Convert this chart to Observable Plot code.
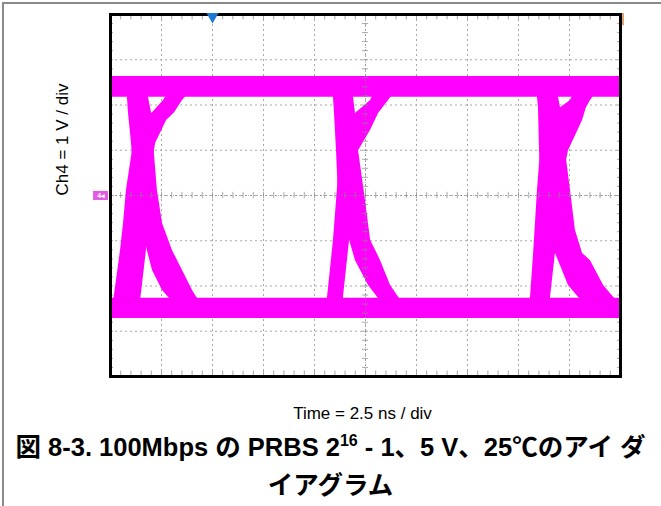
<!DOCTYPE html>
<html>
<head>
<meta charset="utf-8">
<script src="https://cdn.jsdelivr.net/npm/d3@7"></script>
<script src="https://cdn.jsdelivr.net/npm/@observablehq/plot@0.6"></script>
<style>
  html, body { margin: 0; padding: 0; background: #fff; }
  #page { position: relative; width: 661px; height: 506px; overflow: hidden; }
  #border { position: absolute; left: 2px; top: 2px; width: 700px; height: 600px;
            border-top: 2px solid #8a8a8a; border-left: 2px solid #8a8a8a; }
  #chart { position: absolute; left: 0; top: 0; }
  #title { position: absolute; left: 0; top: 430px; width: 661px; text-align: center;
           font-family: "Liberation Sans", Arial, "Noto Sans CJK JP", sans-serif;
           font-weight: bold; font-size: 25.5px; line-height: 34px; color: #000; white-space: nowrap; }
  #title sup { font-size: 16px; vertical-align: baseline; position: relative; top: -10px; }
</style>
</head>
<body>
<div id="page">
  <div id="border"></div>
  <div id="chart"></div>
  <div id="title">図 8-3. 100Mbps の PRBS 2<sup>16</sup> - 1、5 V、25℃のアイ ダ<br>イアグラム</div>
</div>
<script>
// Axis setup: 2.5 ns / div (10 div), 1 V / div (8 div)
const xDomain = [0, 25];
const yDomain = [-4, 4];
const xGrid = [0, 2.5, 5, 7.5, 10, 12.5, 15, 17.5, 20, 22.5, 25];
const yGrid = [-4, -3, -2, -1, 0, 1, 2, 3, 4];
const xLabel = "Time = 2.5 ns / div";
const yLabel = "Ch4 = 1 V / div";
const channelMark = "4";
const triggerTime = [5];

// Logic levels (V): band bottom / top of trace cloud
const levelTimes = [0, 25];
const highLevel = [2.17, 2.63];
const lowLevel = [-2.72, -2.27];

// Edge envelopes: [voltage, left time (ns), right time (ns)]
const rise1 = [[-2.35,0.15,1.47],[-1.22,0.49,1.76],[-0.62,0.64,1.81],[0.11,0.78,1.86],[1.15,1.13,2.21],[1.66,1.37,2.75],[1.83,2.06,3.14],[2.10,2.60,3.53],[2.35,2.94,4.02]];
const fall1 = [[2.35,0.83,1.86],[2.17,0.83,1.86],[1.83,0.88,2.01],[1.15,1.03,2.11],[0.11,1.18,2.30],[-0.62,1.52,2.55],[-1.22,1.81,3.04],[-1.66,2.06,3.53],[-2.10,2.55,4.02],[-2.25,2.84,4.22],[-2.35,3.04,4.41]];
const rise2 = [[-2.35,10.59,11.42],[-2.25,10.64,11.42],[-0.99,10.93,11.72],[-0.11,11.08,11.81],[0.99,11.27,12.16],[1.44,11.52,12.75],[1.81,12.01,13.14],[2.10,12.75,13.63],[2.35,12.99,14.02]];
const fall2 = [[2.35,10.93,11.91],[2.17,10.93,11.91],[1.81,10.98,12.01],[0.99,11.08,12.16],[-0.11,11.18,12.50],[-0.99,11.72,12.75],[-1.44,12.01,13.24],[-1.99,12.65,13.73],[-2.25,13.09,14.12],[-2.35,13.24,14.31]];
const rise3 = [[-2.35,20.54,21.57],[-2.25,20.59,21.57],[-1.28,20.74,21.81],[0.11,20.93,22.06],[0.99,21.08,22.45],[1.66,21.57,23.14],[1.94,22.06,23.33],[2.10,22.55,23.53],[2.35,22.79,23.92]];
const fall3 = [[2.35,20.93,21.96],[2.17,20.93,21.96],[1.94,20.98,22.06],[0.99,21.03,22.30],[0.11,21.13,22.55],[-0.77,21.47,22.79],[-1.28,21.81,23.14],[-1.44,21.96,23.53],[-1.99,22.45,24.17],[-2.25,22.94,24.66],[-2.35,23.14,24.85]];

const traceColor = "#ff00ff";
const edges = [rise1, fall1, rise2, fall2, rise3, fall3];

const xMinor = d3.range(0, 25.001, 0.5);
const yMinor = d3.range(-4, 4.001, 0.2);
const font = "Liberation Sans, Arial, sans-serif";

const edgeMarks = edges.map(e => Plot.areaX(e, {
  y: d => d[0], x1: d => d[1], x2: d => d[2],
  fill: traceColor, curve: "linear"
}));

const chart = Plot.plot({
  width: 661, height: 430,
  marginLeft: 110, marginRight: 41, marginTop: 14, marginBottom: 54,
  x: {domain: xDomain, axis: null},
  y: {domain: yDomain, axis: null},
  style: {fontFamily: font, background: "transparent", overflow: "visible"},
  marks: [
    // graticule
    Plot.ruleX(xGrid, {stroke: "#a8a8a8", strokeDasharray: "2,3"}),
    Plot.ruleY(yGrid, {stroke: "#a8a8a8", strokeDasharray: "2,3"}),
    // minor ticks along frame edges
    Plot.ruleX(xMinor, {y1: 4, y2: 3.88, stroke: "#a8a8a8"}),
    Plot.ruleX(xMinor, {y1: -4, y2: -3.88, stroke: "#a8a8a8"}),
    Plot.ruleY(yMinor, {x1: 0, x2: 0.15, stroke: "#a8a8a8"}),
    Plot.ruleY(yMinor, {x1: 25, x2: 24.85, stroke: "#a8a8a8"}),
    // level bands
    Plot.areaY(levelTimes, {x: d => d, y1: highLevel[0], y2: highLevel[1], fill: traceColor}),
    Plot.areaY(levelTimes, {x: d => d, y1: lowLevel[0], y2: lowLevel[1], fill: traceColor}),
    ...edgeMarks,
    // center cross with minor ticks
    Plot.ruleX([12.5], {stroke: "#8a8a8a", strokeDasharray: "1,2", strokeOpacity: 0.7}),
    Plot.ruleY([0], {stroke: "#8a8a8a", strokeDasharray: "1,2", strokeOpacity: 0.7}),
    Plot.ruleX(xMinor, {y1: -0.07, y2: 0.07, stroke: "#8a8a8a", strokeOpacity: 0.7}),
    Plot.ruleY(yMinor, {x1: 12.35, x2: 12.65, stroke: "#8a8a8a", strokeOpacity: 0.7}),
    // frame
    Plot.frame({stroke: "#000", strokeWidth: 3}),
    // trigger position marker
    Plot.dot(triggerTime, {x: d => d, y: 4, dy: 2, symbol: "triangle", rotate: 180, r: 4.5, fill: "#1e78d2", stroke: "none"}),
    // trigger level marker (right edge)
    Plot.ruleX([25], {y1: 4.02, y2: 3.75, dx: 2.5, stroke: "#d9824a", strokeWidth: 1.5}),
    // channel 4 ground marker
    Plot.rect([0], {x1: -0.83, x2: -0.1, y1: -0.11, y2: 0.09, fill: "#e35ae3"}),
    Plot.text([channelMark + "◂"], {x: -0.46, y: -0.01, fill: "#fff", fontSize: 7, fontWeight: "bold"}),
    // axis labels
    Plot.text([xLabel], {frameAnchor: "bottom", dy: 42, dx: -3, fontSize: 17, fill: "#000"}),
    Plot.text([yLabel], {frameAnchor: "left", dx: -48, rotate: -90, fontSize: 17, fill: "#000"})
  ]
});
document.getElementById("chart").append(chart);
</script>
</body>
</html>
